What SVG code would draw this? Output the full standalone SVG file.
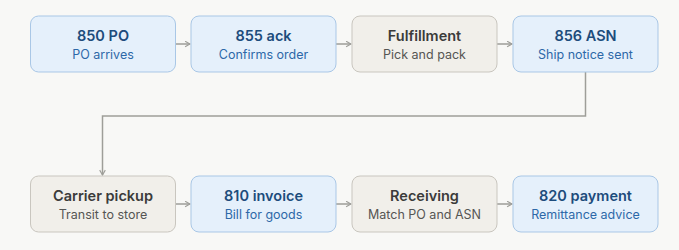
<svg xmlns="http://www.w3.org/2000/svg" width="679" height="250" viewBox="0 0 679 250">
<defs>
<marker id="arr" viewBox="0 0 10 10" refX="9" refY="5" markerWidth="7" markerHeight="7" markerUnits="userSpaceOnUse" orient="auto">
<path d="M2,1 L9,5 L2,9" fill="none" stroke="#9e9e99" stroke-width="1.6"/>
</marker>
<style>
.bg{fill:#f8f8f6}
.blue rect{fill:#e5f0fb;stroke:#a9c7e6;stroke-width:1}
.gray rect{fill:#f1efea;stroke:#c9c6bf;stroke-width:1}
.t{font-family:Inter,"Open Sans",sans-serif;font-size:14.5px;font-weight:600;text-anchor:middle}
.s{font-family:Inter,"Open Sans",sans-serif;font-size:12.5px;font-weight:400;text-anchor:middle}
.blue .t{fill:#1d4c7c}
.blue .s{fill:#2d68a8}
.gray .t{fill:#3b3b3a}
.gray .s{fill:#555553}
.c{fill:none;stroke:#9e9e99;stroke-width:1.5;marker-end:url(#arr)}
</style>
</defs>
<rect class="bg" x="0" y="0" width="679" height="250"/>
<g id="connectors">
<path class="c" d="M175,44 H190"/>
<path class="c" d="M336,44 H351"/>
<path class="c" d="M497,44 H512"/>
<path class="c" d="M585.5,72 V116 H102.5 V175"/>
<path class="c" d="M175,204 H190"/>
<path class="c" d="M336,204 H351"/>
<path class="c" d="M497,204 H512"/>
</g>
<g id="n850" class="blue"><rect x="30.5" y="16" width="145" height="56" rx="8"/><text class="t" x="103" y="41">850 PO</text><text class="s" x="103" y="59">PO arrives</text></g>
<g id="n855" class="blue"><rect x="191" y="16" width="145" height="56" rx="8"/><text class="t" x="263.5" y="41">855 ack</text><text class="s" x="263.5" y="59">Confirms order</text></g>
<g id="fulfillment" class="gray"><rect x="352" y="16" width="145" height="56" rx="8"/><text class="t" x="424.5" y="41">Fulfillment</text><text class="s" x="424.5" y="59">Pick and pack</text></g>
<g id="n856" class="blue"><rect x="513" y="16" width="145" height="56" rx="8"/><text class="t" x="585.5" y="41">856 ASN</text><text class="s" x="585.5" y="59">Ship notice sent</text></g>
<g id="carrier" class="gray"><rect x="30.5" y="176" width="145" height="56" rx="8"/><text class="t" x="103" y="201">Carrier pickup</text><text class="s" x="103" y="219">Transit to store</text></g>
<g id="n810" class="blue"><rect x="191" y="176" width="145" height="56" rx="8"/><text class="t" x="263.5" y="201">810 invoice</text><text class="s" x="263.5" y="219">Bill for goods</text></g>
<g id="receiving" class="gray"><rect x="352" y="176" width="145" height="56" rx="8"/><text class="t" x="424.5" y="201">Receiving</text><text class="s" x="424.5" y="219">Match PO and ASN</text></g>
<g id="n820" class="blue"><rect x="513" y="176" width="145" height="56" rx="8"/><text class="t" x="585.5" y="201">820 payment</text><text class="s" x="585.5" y="219">Remittance advice</text></g>
</svg>
